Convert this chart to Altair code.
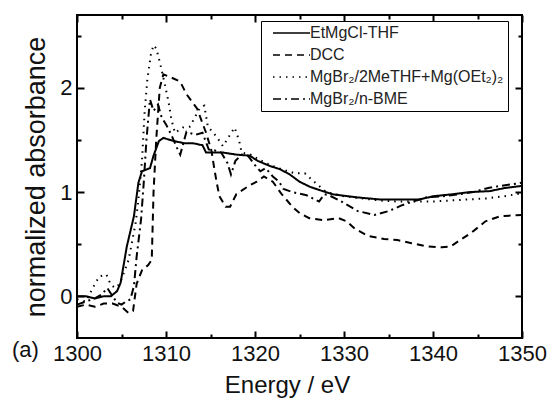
import altair as alt
import pandas as pd

series_names = ["EtMgCl-THF", "DCC", "MgBr₂/2MeTHF+Mg(OEt₂)₂", "MgBr₂/n-BME"]

etmgcl_x = [1300, 1301, 1302, 1303, 1303.8, 1304.5, 1304.9, 1305.6, 1306.4, 1306.9, 1307.3, 1308.2,
            1308.6, 1309.2, 1309.7, 1310.9, 1312, 1313, 1314.1, 1314.5, 1315.3, 1316.4, 1317.9, 1319.4,
            1320.3, 1321.7, 1322.8, 1323.9, 1325, 1326.2, 1327.6, 1328.7, 1331.4, 1334, 1336.3, 1338.5,
            1340, 1342.2, 1344.1, 1346.4, 1348.1, 1350]
etmgcl_y = [0.0, 0.0, -0.02, 0.0, 0.0, 0.05, 0.13, 0.48, 0.77, 1.09, 1.2, 1.23,
            1.35, 1.49, 1.52, 1.49, 1.47, 1.47, 1.45, 1.38, 1.38, 1.38, 1.36, 1.35,
            1.3, 1.25, 1.22, 1.17, 1.1, 1.05, 1.01, 0.98, 0.95, 0.93, 0.93, 0.93,
            0.96, 0.98, 1.0, 1.01, 1.04, 1.06]

dcc_x = [1300, 1301, 1302, 1303, 1304, 1305, 1305.8, 1306.3, 1306.7, 1307.3, 1308, 1308.4, 1308.6,
         1308.9, 1309.3, 1309.7, 1310.6, 1311.6, 1312.3, 1313.5, 1314.5, 1315.1, 1315.4, 1315.7,
         1316, 1316.7, 1317.2, 1317.9, 1319.3, 1320.2, 1321, 1322, 1323, 1324.2, 1325, 1326.1,
         1327.7, 1329.4, 1330.3, 1331.2, 1332.7, 1334.5, 1336, 1337.6, 1339.3, 1341, 1342, 1342.7,
         1344.3, 1345.9, 1347.6, 1350]
dcc_y = [-0.1, -0.08, -0.1, -0.07, -0.07, -0.1, -0.16, -0.14, 0.12, 0.25, 0.3, 0.35, 1.0,
         1.5, 2.0, 2.13, 2.1, 2.06, 1.94, 1.8, 1.57, 1.4, 1.24, 1.09,
         0.96, 0.86, 0.86, 0.98, 1.06, 1.1, 1.15, 1.1, 0.98, 0.86, 0.8, 0.75,
         0.73, 0.75, 0.72, 0.65, 0.58, 0.55, 0.54, 0.51, 0.48, 0.47, 0.48, 0.52,
         0.61, 0.72, 0.77, 0.78]

mgbr_thf_x = [1300, 1301, 1301.9, 1302.5, 1303.3, 1303.8, 1304.3, 1304.8, 1305.2, 1305.8, 1306.2,
              1306.6, 1306.9, 1307.3, 1307.6, 1307.9, 1308.3, 1308.6, 1308.9, 1309.3, 1309.7,
              1310.3, 1310.6, 1311, 1311.9, 1312.7, 1313.8, 1314.3, 1314.7, 1315.7, 1316.4,
              1317.7, 1318.2, 1318.5, 1319.5, 1320.5, 1321.7, 1323, 1324.5, 1325.6, 1326.5,
              1328, 1330, 1332, 1334, 1336, 1338, 1340, 1342, 1344, 1346, 1348, 1350]
mgbr_thf_y = [-0.03, -0.05, 0.1, 0.19, 0.21, 0.11, 0.08, 0.12, 0.21, 0.35, 0.53,
              0.71, 0.93, 1.3, 1.77, 2.08, 2.32, 2.41, 2.38, 2.25, 2.1,
              1.86, 1.7, 1.57, 1.62, 1.63, 1.81, 1.83, 1.63, 1.53, 1.44,
              1.62, 1.5, 1.38, 1.36, 1.31, 1.26, 1.22, 1.18, 1.18, 1.11,
              1.0, 0.96, 0.94, 0.92, 0.91, 0.91, 0.91, 0.92, 0.93, 0.94, 0.96, 0.99]

mgbr_bme_x = [1300, 1301, 1302, 1302.8, 1303.4, 1304, 1304.5, 1305, 1305.5, 1306, 1306.4, 1306.7,
              1307.2, 1307.5, 1307.8, 1308.2, 1308.6, 1309.1, 1309.5, 1310, 1310.6, 1311.2,
              1311.6, 1312.3, 1313.3, 1314.1, 1314.8, 1315.5, 1316.2, 1316.9, 1317.3, 1317.8,
              1318.5, 1319.2, 1320, 1320.6, 1321.2, 1322, 1322.7, 1323.2, 1324.2, 1325.8,
              1327.2, 1327.8, 1328.3, 1329.5, 1331.5, 1333.4, 1335.1, 1336.4, 1337.7, 1339.3,
              1341, 1343, 1344.5, 1346.2, 1347.6, 1350]
mgbr_bme_y = [-0.08, -0.05, -0.02, 0.02, 0.08, 0.0, -0.06, -0.08, -0.05, -0.03, 0.1, 0.38,
              0.74, 1.09, 1.5, 1.89, 1.78, 1.84, 1.72, 1.65, 1.55, 1.43,
              1.36, 1.58, 1.55, 1.57, 1.41, 1.4, 1.38, 1.28, 1.17, 1.3,
              1.36, 1.35, 1.26, 1.2, 1.23, 1.15, 1.1, 1.03, 1.0, 0.97,
              0.91, 0.98, 0.97, 0.92, 0.82, 0.78, 0.82, 0.87, 0.91, 0.95,
              0.96, 0.98, 1.0, 1.04, 1.06, 1.09]

x_major = [1300, 1310, 1320, 1330, 1340, 1350]
x_minor = [1305, 1315, 1325, 1335, 1345]
y_major = [0, 1, 2]
y_minor = [0.5, 1.5, 2.5]

rows = []
for name, xs, ys in zip(series_names,
                        [etmgcl_x, dcc_x, mgbr_thf_x, mgbr_bme_x],
                        [etmgcl_y, dcc_y, mgbr_thf_y, mgbr_bme_y]):
    for xv, yv in zip(xs, ys):
        rows.append({"series": name, "E": xv, "A": yv})
df = pd.DataFrame(rows)

W, H = 445, 323
MAJ, MIN = 7, 4
FONT = "Liberation Sans Narrow, Liberation Sans, Arial, sans-serif"
INK = "#111111"
xscale = alt.Scale(domain=[1300, 1350], nice=False, zero=False)
yscale = alt.Scale(domain=[-0.4, 2.7], nice=False, zero=False)

# main layer: curves, legend, labels, titles; major ticks pointing inward
lines = alt.Chart(df).mark_line(color="black", strokeWidth=2).encode(
    x=alt.X("E:Q", scale=xscale,
            axis=alt.Axis(orient="bottom", values=x_major, domain=False, grid=False,
                          ticks=True, tickSize=MAJ, offset=-MAJ, tickWidth=2, tickColor="black",
                          format="d", labelFlush=False, labelOverlap=False, labelPadding=5,
                          labelFont=FONT, labelFontSize=22, labelColor=INK,
                          title="Energy / eV", titleFont=FONT, titleFontSize=24,
                          titleFontWeight="normal", titleColor=INK, titlePadding=9, titleX=210)),
    y=alt.Y("A:Q", scale=yscale,
            axis=alt.Axis(orient="left", values=y_major, domain=False, grid=False,
                          ticks=True, tickSize=MAJ, offset=-MAJ, tickWidth=2, tickColor="black",
                          format="d", labelFlush=False, labelOverlap=False, labelPadding=5,
                          labelFont=FONT, labelFontSize=22, labelColor=INK,
                          title="normalized absorbance", titleFont=FONT, titleFontSize=27,
                          titleFontWeight="normal", titleColor=INK, titlePadding=9)),
    strokeDash=alt.StrokeDash(
        "series:N",
        scale=alt.Scale(domain=series_names, range=[[1, 0], [7, 5], [1.5, 5], [8, 4, 2, 4]]),
        legend=alt.Legend(title=None, orient="none", legendX=184, legendY=6,
                          symbolType="M0,0H6.17", symbolSize=144, symbolStrokeWidth=1.6,
                          symbolStrokeColor="black", labelOffset=29, labelFont=FONT,
                          labelFontSize=16, labelColor="#222", labelLimit=400,
                          padding=4, rowPadding=6, strokeColor="black", fillColor="white",
                          labelExpr="datum.label + '\u00a0\u00a0\u00a0\u00a0'"),
    ),
)


def tick_layer(xo, yo, xv, yv, size):
    return alt.Chart(df).mark_line(opacity=0).encode(
        x=alt.X("E:Q", scale=xscale,
                axis=alt.Axis(orient=xo, values=xv, labels=False, domain=False, grid=False,
                              title=None, tickSize=size, offset=-size, tickWidth=2,
                              tickColor="black")),
        y=alt.Y("A:Q", scale=yscale,
                axis=alt.Axis(orient=yo, values=yv, labels=False, domain=False, grid=False,
                              title=None, tickSize=size, offset=-size, tickWidth=2,
                              tickColor="black")),
        detail="series:N",
    )


chart = alt.layer(
    lines,
    tick_layer("top", "right", x_major, y_major, MAJ),
    tick_layer("bottom", "left", x_minor, y_minor, MIN),
    tick_layer("top", "right", x_minor, y_minor, MIN),
).resolve_axis(x="independent", y="independent").properties(
    width=W, height=H,
    autosize=alt.AutoSizeParams(type="none"),
    padding={"left": 77, "top": 15, "right": 25, "bottom": 61},
    title=alt.TitleParams("(a)", orient="bottom", anchor="start", frame="group", dx=-65,
                          offset=-57, fontSize=22, fontWeight="normal", font=FONT, color=INK),
).configure_view(stroke="black", strokeWidth=2)

chart.save("out.html", embed_options={"renderer": "svg", "actions": False})
